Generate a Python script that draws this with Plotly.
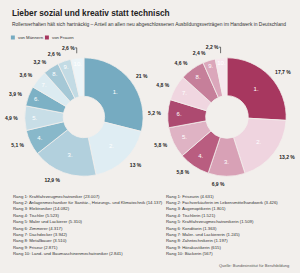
import plotly.graph_objects as go

ranks = ["1.", "2.", "3.", "4.", "5.", "6.", "7.", "8.", "9.", "10."]

men_jobs = ["Kraftfahrzeugmechatroniker", "Anlagenmechaniker für Sanitär-, Heizungs- und Klimatechnik",
            "Elektroniker", "Tischler", "Maler und Lackierer", "Zimmerer", "Dachdecker",
            "Metallbauer", "Friseur", "Land- und Baumaschinenmechatroniker"]
men_counts = [23007, 14137, 14082, 5523, 5310, 4317, 3942, 3510, 2871, 2841]
men_pct = ["21 %", "13 %", "12,9 %", "5,1 %", "4,9 %", "3,9 %", "3,6 %", "3,2 %", "2,6 %", "2,6 %"]
men_colors = ["#76abc1", "#dfedf3", "#b2d0dd", "#88b8ca", "#c8dee7", "#7db1c5",
              "#dcebf1", "#a5c8d6", "#c3dbe4", "#ecf4f7"]

women_jobs = ["Friseurin", "Fachverkäuferin im Lebensmittelhandwerk", "Augenoptikerin", "Tischlerin",
              "Kraftfahrzeugmechatronikerin", "Konditorin", "Maler- und Lackiererin",
              "Zahntechnikerin", "Hörakustikerin", "Bäckerin"]
women_counts = [4631, 3426, 1801, 1521, 1509, 1363, 1245, 1197, 615, 567]
women_pct = ["17,7 %", "13,2 %", "6,9 %", "5,8 %", "5,8 %", "5,2 %", "4,8 %", "4,6 %", "2,4 %", "2,2 %"]
women_colors = ["#a7375f", "#efd4df", "#d8a1b6", "#b95d80", "#dfb3c4", "#ad4a70",
                "#f0d6e0", "#c67f9a", "#dba7bb", "#f6e8ee"]

BG = "#f2efec"
W, H = 300, 273
FONT = "Liberation Sans, Arial, sans-serif"

def fmt(n):
    return f"{n:,}".replace(",", ".")

fig = go.Figure()

def add_donut(values, colors, pcts, x0, x1, y0, y1, hole):
    dom = dict(x=[x0 / W, x1 / W], y=[1 - y1 / H, 1 - y0 / H])
    pad = 5
    dom2 = dict(x=[(x0 - pad) / W, (x1 + pad) / W], y=[1 - (y1 + pad) / H, 1 - (y0 - pad) / H])
    fig.add_trace(go.Pie(
        values=values, labels=ranks, text=ranks, textinfo="text", sort=False,
        direction="clockwise", rotation=0, hole=hole, domain=dom,
        marker=dict(colors=colors, line=dict(color=BG, width=0.8)),
        textposition="inside", insidetextorientation="horizontal",
        insidetextfont=dict(color="white", size=6, family=FONT),
        showlegend=False, hoverinfo="skip"))
    fig.add_trace(go.Pie(
        values=values, labels=[r + " " for r in ranks], text=["<b>" + p + "</b>" for p in pcts],
        textinfo="text", sort=False,
        direction="clockwise", rotation=0, hole=0.9, domain=dom2,
        marker=dict(colors=["rgba(0,0,0,0)"] * len(values), line=dict(width=0)),
        textposition="outside", outsidetextfont=dict(color="#222", size=5, family=FONT),
        showlegend=False, hoverinfo="skip"))

add_donut(men_counts, men_colors, men_pct, 22, 142, 57, 177, 0.35)
add_donut(women_counts, women_colors, women_pct, 167, 287, 57, 177, 0.36)

ann = []
ann.append(dict(x=7 / W, y=1 - 13 / H, xref="paper", yref="paper", xanchor="left", yanchor="middle",
                text="<b>Lieber sozial und kreativ statt technisch</b>", showarrow=False,
                font=dict(size=8.3, family=FONT, color="#222")))
ann.append(dict(x=7 / W, y=1 - 24.5 / H, xref="paper", yref="paper", xanchor="left", yanchor="middle",
                text="Rollenverhalten hält sich hartnäckig – Anteil an allen neu abgeschlossenen Ausbildungsverträgen im Handwerk in Deutschland",
                showarrow=False, font=dict(size=4.9, family=FONT, color="#333")))
# legend
ann.append(dict(x=13.5 / W, y=1 - 37.5 / H, xref="paper", yref="paper", xanchor="left", yanchor="middle",
                text="von Männern", showarrow=False, font=dict(size=4.3, family=FONT, color="#333")))
ann.append(dict(x=48 / W, y=1 - 37.5 / H, xref="paper", yref="paper", xanchor="left", yanchor="middle",
                text="von Frauen", showarrow=False, font=dict(size=4.3, family=FONT, color="#333")))

LS = 6.4
for i, (j, c) in enumerate(zip(men_jobs, men_counts)):
    ann.append(dict(x=8 / W, y=1 - (196 + i * LS) / H, xref="paper", yref="paper",
                    xanchor="left", yanchor="middle", align="left",
                    text=f"Rang {i + 1}: {j} ({fmt(c)})", showarrow=False,
                    font=dict(size=4.3, family=FONT, color="#333")))
for i, (j, c) in enumerate(zip(women_jobs, women_counts)):
    ann.append(dict(x=163 / W, y=1 - (196 + i * LS) / H, xref="paper", yref="paper",
                    xanchor="left", yanchor="middle", align="left",
                    text=f"Rang {i + 1}: {j} ({fmt(c)})", showarrow=False,
                    font=dict(size=4.3, family=FONT, color="#333")))
ann.append(dict(x=292 / W, y=1 - 265 / H, xref="paper", yref="paper", xanchor="right", yanchor="middle",
                text="Quelle: Bundesinstitut für Berufsbildung", showarrow=False,
                font=dict(size=4, family=FONT, color="#555")))

shapes = [
    dict(type="rect", xref="paper", yref="paper", x0=8 / W, x1=12 / W, y0=1 - 39.5 / H, y1=1 - 35.5 / H,
         fillcolor=men_colors[0], line=dict(width=0)),
    dict(type="rect", xref="paper", yref="paper", x0=42.5 / W, x1=46.5 / W, y0=1 - 39.5 / H, y1=1 - 35.5 / H,
         fillcolor=women_colors[0], line=dict(width=0)),
]

fig.update_layout(width=W, height=H, margin=dict(l=0, r=0, t=0, b=0),
                  paper_bgcolor=BG, plot_bgcolor=BG, annotations=ann, shapes=shapes,
                  font=dict(family=FONT))
fig.write_html("out.html", config=dict(displayModeBar=False))
